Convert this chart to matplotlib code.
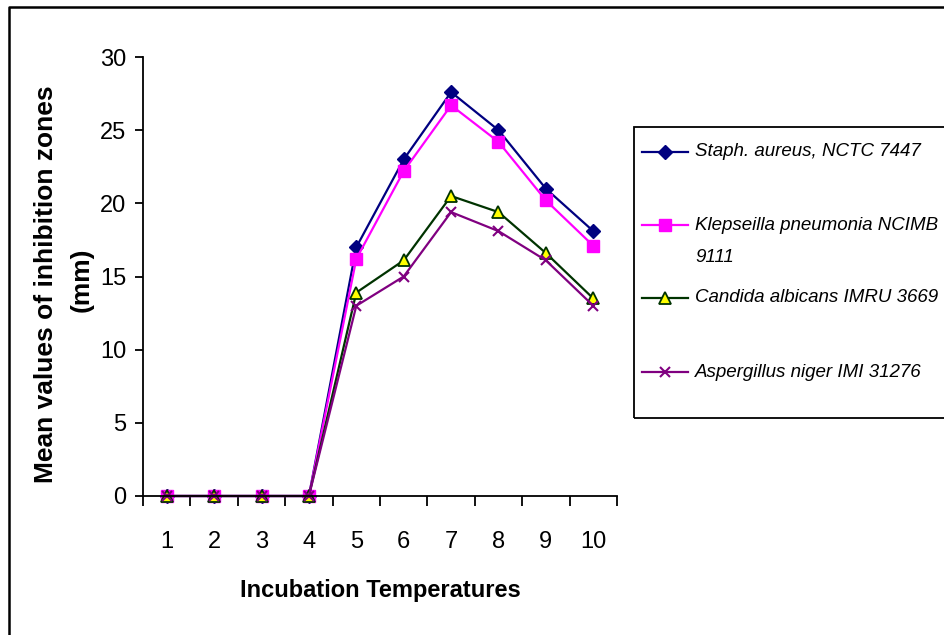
import numpy as np
import matplotlib
matplotlib.use("Agg")
import matplotlib.pyplot as plt
from matplotlib.lines import Line2D
from matplotlib.patches import Rectangle

plt.rcParams['font.family'] = ['Liberation Sans', 'DejaVu Sans']

# data
temps = [1, 2, 3, 4, 5, 6, 7, 8, 9, 10]
staph = [0, 0, 0, 0, 17.0, 23.0, 27.6, 25.0, 21.0, 18.1]
klep = [0, 0, 0, 0, 16.2, 22.2, 26.7, 24.2, 20.2, 17.1]
candida = [0, 0, 0, 0, 13.9, 16.1, 20.5, 19.4, 16.6, 13.5]
asper = [0, 0, 0, 0, 13.0, 15.0, 19.4, 18.1, 16.1, 13.0]
labels = ["Staph. aureus, NCTC 7447",
          "Klepseilla pneumonia NCIMB\n9111",
          "Candida albicans IMRU 3669",
          "Aspergillus niger IMI 31276"]

W, H = 945, 635
fig = plt.figure(figsize=(W / 100, H / 100), dpi=100)

def fx(px):
    return px / W

def fy(py):
    return 1 - py / H

ax = fig.add_axes([fx(143), fy(496), fx(617) - fx(143), fy(57) - fy(496)])

colors = ['#000080', '#FF00FF', '#003300', '#800080']
markers = [
    dict(marker='D', markersize=7.5, mfc='#000080', mec='#000080'),
    dict(marker='s', markersize=8, mfc='#FF00FF', mec='#FF00FF'),
    dict(marker='^', markersize=9, mfc='#FFFF00', mec='#003300', mew=1.3),
    dict(marker='x', markersize=7, mec='#800080', mew=1.5),
]
series = [staph, klep, candida, asper]
for vals, c, mk in zip(series, colors, markers):
    ax.plot(temps, vals, color=c, lw=1.6, clip_on=False, **mk)

ax.set_xlim(0.5, 10.5)
ax.set_ylim(0, 30)
ax.set_yticks(np.arange(0, 31, 5))
ax.set_xticks(temps)
ax.set_xticks(np.arange(0.5, 11, 1), minor=True)
ax.tick_params(axis='x', which='major', length=0, pad=25, labelsize=17)
ax.tick_params(axis='x', which='minor', length=7, width=1.3, direction='out')
ax.tick_params(axis='y', length=6, width=1.3, direction='out', pad=6, labelsize=17)
for s in ['top', 'right']:
    ax.spines[s].set_visible(False)
for s in ['left', 'bottom']:
    ax.spines[s].set_linewidth(1.3)

fig.text(fx(380), fy(591), "Incubation Temperatures", fontsize=17,
         fontweight='bold', ha='center', va='center')
fig.text(fx(46), fy(284), "Mean values of inhibition zones", fontsize=19,
         fontweight='bold', ha='center', va='center', rotation=90)
fig.text(fx(82), fy(280), "(mm)", fontsize=19,
         fontweight='bold', ha='center', va='center', rotation=90)

# outer chart border (right and bottom run off the image)
fig.add_artist(Line2D([fx(9), fx(9), fx(W + 5)], [fy(H + 5), fy(7), fy(7)],
                      color='black', lw=1.8, transform=fig.transFigure))

# legend box, drawn by hand to keep Excel's uneven entry spacing
fig.add_artist(Rectangle((fx(634), fy(418)), fx(W + 20) - fx(634), fy(127) - fy(418),
                         fill=False, edgecolor='black', lw=1.3,
                         transform=fig.transFigure))
leg_y = [152, 225, 298, 372]
for lab, c, mk, y in zip(labels, colors, markers, leg_y):
    fig.add_artist(Line2D([fx(642), fx(688)], [fy(y), fy(y)], color=c, lw=1.6,
                          transform=fig.transFigure))
    fig.add_artist(Line2D([fx(665)], [fy(y)], lw=0,
                          transform=fig.transFigure, **mk))
    lines = lab.split('\n')
    for k, part in enumerate(lines):
        fig.text(fx(695), fy(y + 32 * k), part, fontsize=13.5, style='italic',
                 ha='left', va='center')

fig.savefig("out.png", dpi=100)
